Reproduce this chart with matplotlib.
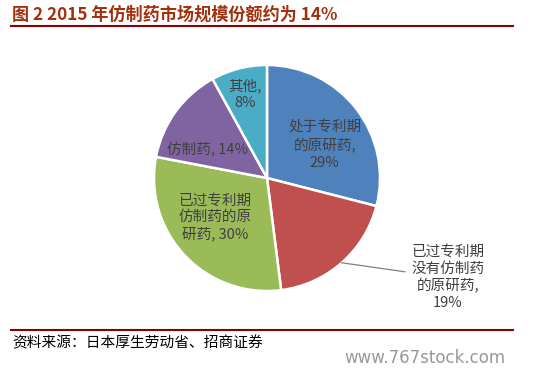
import matplotlib
matplotlib.use("Agg")
import matplotlib.pyplot as plt

plt.rcParams['font.family'] = ['Noto Sans CJK SC', 'DejaVu Sans']

labels = ["处于专利期\n的原研药,\n29%", "已过专利期\n没有仿制药\n的原研药,\n19%",
          "已过专利期\n仿制药的原\n研药, 30%", "仿制药, 14%", "其他,\n8%"]
values = [29, 19, 30, 14, 8]
colors = ["#4F81BD", "#C0504D", "#9BBB59", "#8064A2", "#4BACC6"]
label_pos = [(0.51, 0.29), (1.60, -0.88), (-0.46, -0.35), (-0.53, 0.25), (-0.19, 0.74)]

W, H = 533, 375
fig = plt.figure(figsize=(W / 100, H / 100), dpi=100)
fig.patch.set_facecolor("white")

# title
fig.text(12 / W, 1 - 15 / H, "图 2 2015 年仿制药市场规模份额约为 14%", fontsize=12.3,
         fontweight="bold", color="#A3300C", va="center", ha="left")
fig.add_artist(plt.Line2D([11 / W, 513 / W], [1 - 26 / H, 1 - 26 / H], color="#8B0000", lw=1.5))
fig.add_artist(plt.Line2D([11 / W, 513 / W], [1 - 330 / H, 1 - 330 / H], color="#8B0000", lw=1.5))
fig.text(12 / W, 1 - 343 / H, "资料来源：日本厚生劳动省、招商证券", fontsize=10.6, color="black",
         va="center", ha="left")
fig.text(505 / W, 1 - 358 / H, "www.767stock.com", fontsize=12, color="#999999",
         va="center", ha="right", family="DejaVu Sans")

cx, cy, r = 267, 178, 113
ax = fig.add_axes([(cx - r) / W, 1 - (cy + r) / H, 2 * r / W, 2 * r / H])
wedges, _ = ax.pie(values, colors=colors, startangle=90, counterclock=False,
                   wedgeprops=dict(edgecolor="white", linewidth=1.8), radius=1.0)
ax.set_xlim(-1, 1)
ax.set_ylim(-1, 1)
ax.set_aspect("equal")
for lab, (x, y) in zip(labels, label_pos):
    ax.text(x, y, lab, ha="center", va="center", fontsize=10.5, color="#404040",
            linespacing=1.25, clip_on=False)
ax.plot([0.66, 1.22], [-0.75, -0.83], color="#808080", lw=0.9, clip_on=False)

fig.savefig("out.png", dpi=100, facecolor="white")
